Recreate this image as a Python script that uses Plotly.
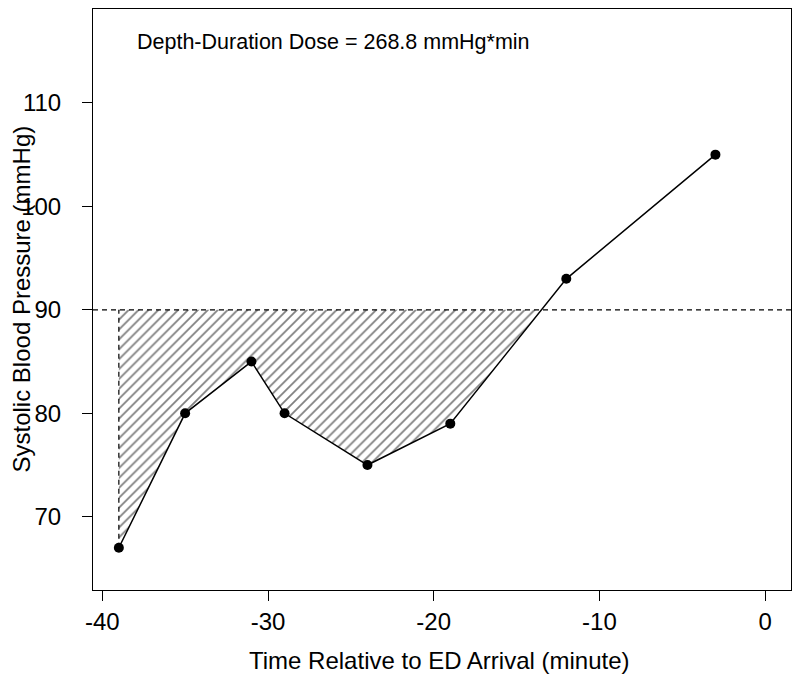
import plotly.graph_objects as go

time_min = [-39, -35, -31, -29, -24, -19, -12, -3]
sbp = [67, 80, 85, 80, 75, 79, 93, 105]
threshold = 90
x_ticks = [-40, -30, -20, -10, 0]
y_ticks = [70, 80, 90, 100, 110]
annotation_text = "Depth-Duration Dose = 268.8 mmHg*min"
x_title = "Time Relative to ED Arrival (minute)"
y_title = "Systolic Blood Pressure (mmHg)"

# polygon below threshold (hatched area)
poly_x = [time_min[0]]
poly_y = [threshold]
for i in range(len(time_min)):
    if sbp[i] <= threshold:
        poly_x.append(time_min[i])
        poly_y.append(sbp[i])
    if i + 1 < len(time_min) and sbp[i] < threshold <= sbp[i + 1]:
        xc = time_min[i] + (threshold - sbp[i]) * (time_min[i + 1] - time_min[i]) / (sbp[i + 1] - sbp[i])
        poly_x.append(xc)
        poly_y.append(threshold)
        break
poly_x.append(poly_x[0])
poly_y.append(poly_y[0])

FONT = "Liberation Sans, Arial, sans-serif"

fig = go.Figure()
fig.add_trace(go.Scatter(
    x=poly_x, y=poly_y, mode="lines", fill="toself",
    line=dict(width=0, color="rgba(0,0,0,0)"),
    fillcolor="rgba(0,0,0,0)",
    fillpattern=dict(shape="/", size=7, solidity=0.25, fgcolor="black", bgcolor="rgba(0,0,0,0)"),
    hoverinfo="skip", showlegend=False,
))
# dashed vertical at first time point
fig.add_trace(go.Scatter(
    x=[time_min[0], time_min[0]], y=[sbp[0], threshold], mode="lines",
    line=dict(color="black", width=1.2, dash="5px,4px"), showlegend=False,
))
fig.add_trace(go.Scatter(
    x=time_min, y=sbp, mode="lines+markers",
    line=dict(color="black", width=1.5),
    marker=dict(color="black", size=10),
    showlegend=False,
))
fig.add_shape(type="line", xref="paper", x0=0, x1=1, yref="y", y0=threshold, y1=threshold,
              line=dict(color="black", width=1.2, dash="5px,4px"))

fig.add_annotation(x=0.060, xref="paper", xanchor="left", y=0.943, yref="paper", yanchor="middle",
                   text=annotation_text, showarrow=False, font=dict(size=21.5, color="black", family=FONT))
# axis titles
fig.add_annotation(x=0.497, xref="paper", xanchor="center", y=-0.122, yref="paper", yanchor="middle",
                   text=x_title, showarrow=False, font=dict(size=24, color="black", family=FONT))
fig.add_annotation(x=0, xref="paper", xanchor="center", xshift=-72, y=0.5, yref="paper", yanchor="middle",
                   text=y_title, textangle=-90, showarrow=False,
                   font=dict(size=24, color="black", family=FONT))

fig.update_layout(
    width=800, height=682,
    margin=dict(l=85, r=17, t=1, b=100),
    paper_bgcolor="white", plot_bgcolor="white",
    font=dict(family=FONT, size=24, color="black"),
    showlegend=False,
)
fig.update_xaxes(
    range=[-40.56, 1.56], tickvals=x_ticks, ticktext=[str(v) for v in x_ticks],
    showgrid=False, zeroline=False, showline=True, linecolor="black", linewidth=1, mirror=True,
    ticks="outside", ticklen=10, tickcolor="black", tickfont=dict(size=24),
    automargin=False,
)
fig.update_yaxes(
    range=[62.92, 119.08], tickvals=y_ticks, ticktext=[str(v) for v in y_ticks],
    showgrid=False, zeroline=False, showline=True, linecolor="black", linewidth=1, mirror=True,
    ticks="outside", ticklen=10, tickcolor="black", tickfont=dict(size=24),
    ticklabelstandoff=16, automargin=False,
)

fig.write_html("out.html")
